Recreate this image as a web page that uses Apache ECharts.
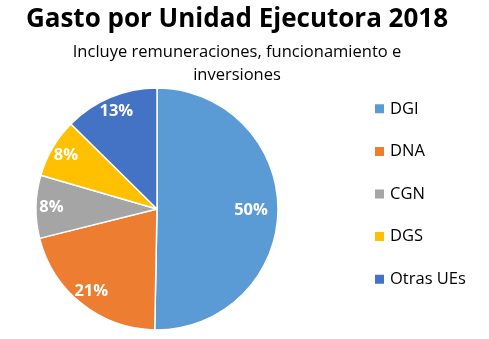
<!DOCTYPE html>
<html><head><meta charset="utf-8">
<script src="https://cdn.jsdelivr.net/npm/echarts@6/dist/echarts.min.js"></script>
<style>html,body{margin:0;padding:0;background:#fff}#c{width:489px;height:339px}</style>
</head><body><div id="c"></div>
<script>
const categories = ['DGI', 'DNA', 'CGN', 'DGS', 'Otras UEs'];
const values = [50.3, 20.8, 8.4, 7.9, 12.6];
const labels = ['50%', '21%', '8%', '8%', '13%'];
const colors = ['#5B9BD5', '#ED7D31', '#A5A5A5', '#FFC000', '#4472C4'];
const titleText = 'Gasto por Unidad Ejecutora 2018';
const subtitleText = 'Incluye remuneraciones, funcionamiento e\ninversiones';

const chart = echarts.init(document.getElementById('c'), null, {renderer: 'canvas'});
const font = '"Open Sans", sans-serif';
const center = [157, 209];
const labelSeries = (radius, idxs) => ({
  type: 'pie', center: center, radius: radius, startAngle: 90, clockwise: true,
  silent: true, legendHoverLink: false,
  data: categories.map((n, i) => ({name: n + ' ' + radius[0], value: values[i],
    itemStyle: {color: 'rgba(0,0,0,0)'},
    label: {show: idxs.indexOf(i) >= 0}})),
  label: {position: 'inside', formatter: p => labels[p.dataIndex],
    fontFamily: font, fontWeight: 'bold', fontSize: 16.5, color: '#fff'},
  labelLine: {show: false}
});
chart.setOption({
  animation: false,
  title: [{
    text: titleText, left: 232, textAlign: 'center', top: 2,
    textStyle: {fontFamily: font, fontWeight: 'bold', fontSize: 26, color: '#000'}
  }, {
    text: subtitleText, left: 232, textAlign: 'center', top: 36,
    textStyle: {fontFamily: font, fontWeight: 'normal', fontSize: 16.5, lineHeight: 23, color: '#000'}
  }],
  legend: {
    orient: 'vertical', left: 373, top: 99.5, padding: 0,
    itemWidth: 11, itemHeight: 11, itemGap: 24, icon: 'rect',
    textStyle: {fontFamily: font, fontSize: 16.5, color: '#000', lineHeight: 18.6},
    data: categories
  },
  series: [{
    type: 'pie', center: center, radius: [0, 121], startAngle: 90, clockwise: true,
    data: categories.map((n, i) => ({name: n, value: values[i], itemStyle: {color: colors[i]}})),
    silent: true,
    itemStyle: {borderColor: '#fff', borderWidth: 1.5},
    label: {show: false}, labelLine: {show: false}
  }, labelSeries([61, 121], [0]), labelSeries([84, 121], [1, 2, 3, 4])]
});
</script></body></html>
